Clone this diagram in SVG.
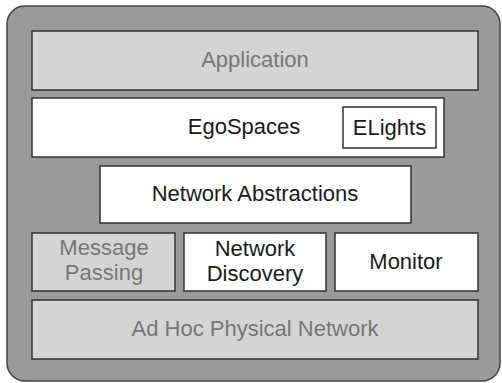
<svg xmlns="http://www.w3.org/2000/svg" width="502" height="383" viewBox="0 0 502 383">
<style>
.box{stroke:#333;stroke-width:1.5}
.w{fill:#fff}
.g{fill:#d4d4d4}
text{font-family:"Liberation Sans",Arial,sans-serif;font-size:22px;text-anchor:middle}
.dt{fill:#1a1a1a}
.gt{fill:#777}
</style>
<rect id="frame" x="7" y="6" width="493" height="375" rx="18" ry="18" fill="#9a9a9a" stroke="#444" stroke-width="1.5"/>
<g id="application"><rect class="box g" x="32" y="31" width="446" height="59"/><text class="gt" x="255" y="67">Application</text></g>
<g id="egospaces"><rect class="box w" x="32" y="98" width="412" height="59"/><text class="dt" x="244" y="134">EgoSpaces</text></g>
<g id="elights"><rect class="box w" x="343" y="107" width="93" height="41"/><text class="dt" x="389.5" y="135">ELights</text></g>
<g id="netabs"><rect class="box w" x="100" y="166" width="311" height="57"/><text class="dt" x="255" y="201">Network Abstractions</text></g>
<g id="msgpass"><rect class="box g" x="32" y="233" width="143" height="58"/><text class="gt" x="104" y="255">Message</text><text class="gt" x="104" y="280">Passing</text></g>
<g id="netdisc"><rect class="box w" x="184" y="233" width="142" height="58"/><text class="dt" x="255" y="256">Network</text><text class="dt" x="255" y="281">Discovery</text></g>
<g id="monitor"><rect class="box w" x="335" y="233" width="143" height="58"/><text class="dt" x="406" y="269">Monitor</text></g>
<g id="adhoc"><rect class="box g" x="32" y="300" width="446" height="59"/><text class="gt" x="255" y="336">Ad Hoc Physical Network</text></g>
<g id="connectors"></g>
</svg>
